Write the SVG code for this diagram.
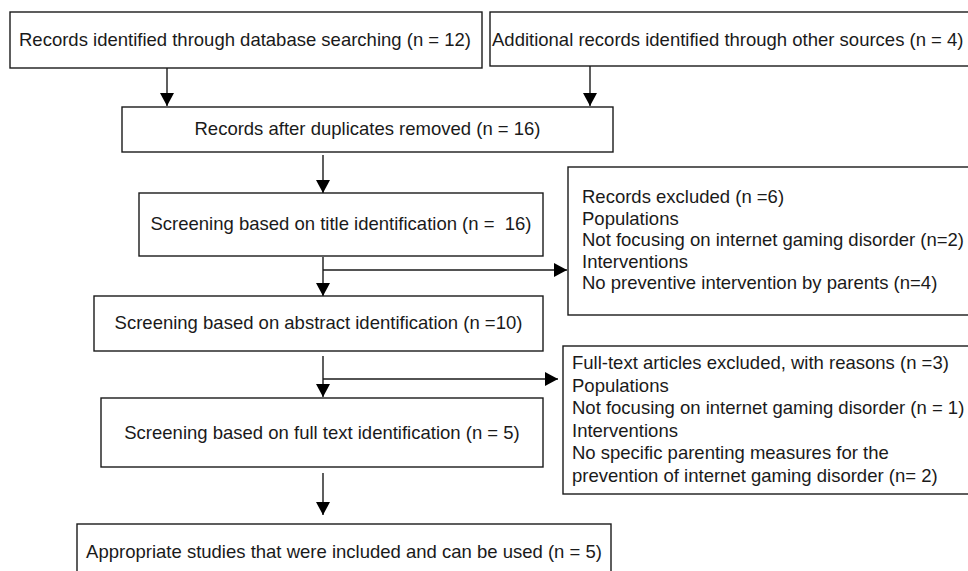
<svg xmlns="http://www.w3.org/2000/svg" width="968" height="571" viewBox="0 0 968 571">
<defs>
<style>
.box{fill:#fff;stroke:#1a1a1a;stroke-width:1.4}
.t{font-family:"Liberation Sans",Arial,sans-serif;font-size:18.5px;fill:#1a1a1a}
.c{text-anchor:middle}
.ln{stroke:#1a1a1a;stroke-width:1.4;fill:none}
</style>
<marker id="ah" markerUnits="userSpaceOnUse" markerWidth="14" markerHeight="14" viewBox="0 0 14 14" refX="13" refY="7" orient="auto">
<path d="M0,0 L13,7 L0,14 Z" fill="#000"/>
</marker>
</defs>
<rect width="968" height="571" fill="#fff"/>
<g id="n1"><rect class="box" x="10" y="12" width="472" height="56"/><text class="t" x="19" y="46">Records identified through database searching (n = 12)</text></g>
<g id="n2"><rect class="box" x="490" y="12" width="490" height="54"/><text class="t" x="492" y="46">Additional records identified through other sources (n = 4)</text></g>
<g id="n3"><rect class="box" x="122" y="107" width="491" height="45"/><text class="t c" x="367.5" y="135">Records after duplicates removed (n = 16)</text></g>
<g id="n4"><rect class="box" x="139" y="193" width="404" height="63"/><text class="t c" x="341" y="230" xml:space="preserve">Screening based on title identification (n =  16)</text></g>
<g id="n5"><rect class="box" x="568" y="167" width="410" height="148"/>
<text class="t" x="582" y="203">Records excluded (n =6)</text>
<text class="t" x="582" y="224.5">Populations</text>
<text class="t" x="582" y="246">Not focusing on internet gaming disorder (n=2)</text>
<text class="t" x="582" y="267.5">Interventions</text>
<text class="t" x="582" y="289">No preventive intervention by parents (n=4)</text></g>
<g id="n6"><rect class="box" x="94" y="296" width="449" height="55"/><text class="t c" x="318.5" y="329">Screening based on abstract identification (n =10)</text></g>
<g id="n7"><rect class="box" x="563" y="346" width="415" height="148"/>
<text class="t" x="572" y="369">Full-text articles excluded, with reasons (n =3)</text>
<text class="t" x="572" y="391.5">Populations</text>
<text class="t" x="572" y="414">Not focusing on internet gaming disorder (n = 1)</text>
<text class="t" x="572" y="436.5">Interventions</text>
<text class="t" x="572" y="459">No specific parenting measures for the</text>
<text class="t" x="572" y="481.5">prevention of internet gaming disorder (n= 2)</text></g>
<g id="n8"><rect class="box" x="101" y="398" width="442" height="69"/><text class="t c" x="322" y="439">Screening based on full text identification (n = 5)</text></g>
<g id="n9"><rect class="box" x="77" y="524" width="534" height="60"/><text class="t c" x="344" y="558">Appropriate studies that were included and can be used (n = 5)</text></g>
<g id="connectors">
<line class="ln" x1="167" y1="68" x2="167" y2="106" marker-end="url(#ah)"/>
<line class="ln" x1="590" y1="66" x2="590" y2="106" marker-end="url(#ah)"/>
<line class="ln" x1="323" y1="155" x2="323" y2="193" marker-end="url(#ah)"/>
<line class="ln" x1="323" y1="257" x2="323" y2="296" marker-end="url(#ah)"/>
<line class="ln" x1="323" y1="270" x2="567" y2="270" marker-end="url(#ah)"/>
<line class="ln" x1="323" y1="356" x2="323" y2="397" marker-end="url(#ah)"/>
<line class="ln" x1="323" y1="379" x2="558" y2="379" marker-end="url(#ah)"/>
<line class="ln" x1="323" y1="473" x2="323" y2="515" marker-end="url(#ah)"/>
</g>
</svg>
